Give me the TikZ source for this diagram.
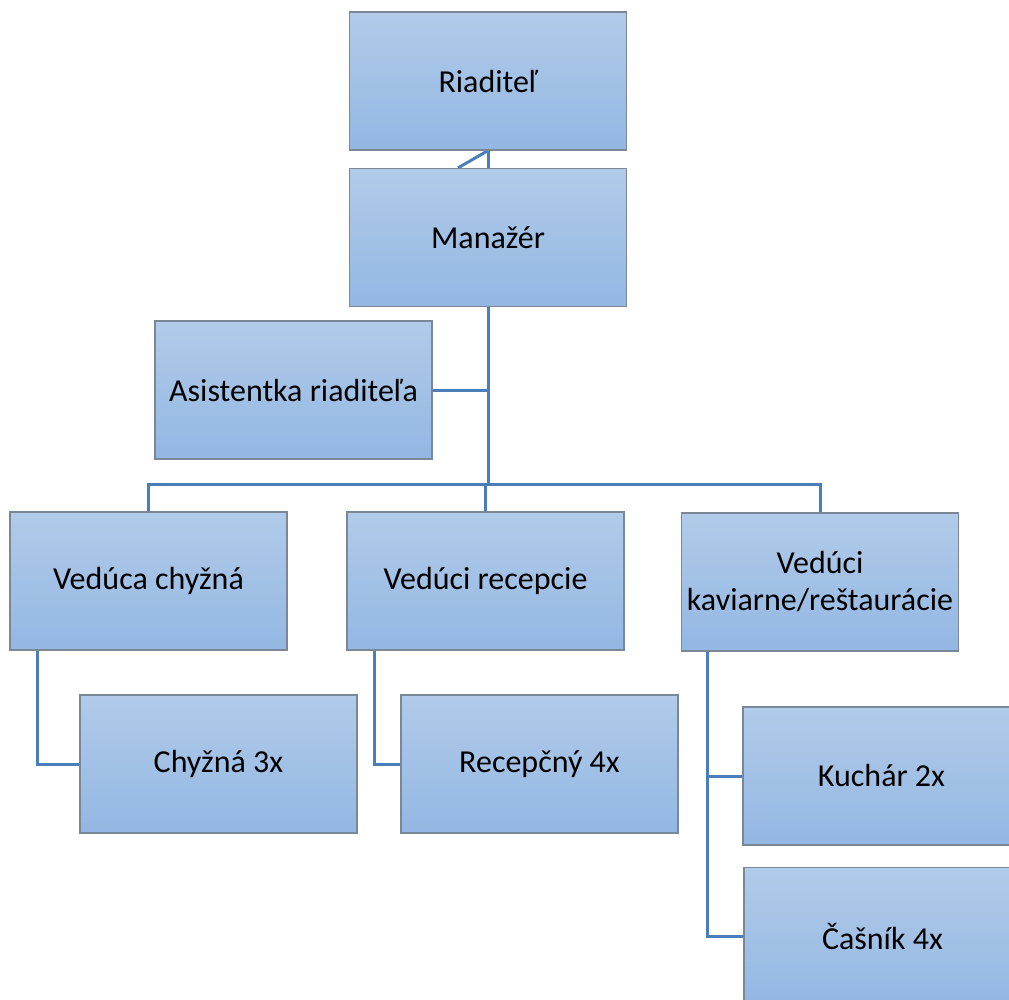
\documentclass[tikz,border=0pt]{standalone}
\usepackage{fontspec}
\setmainfont{Carlito}
\definecolor{boxtop}{HTML}{B1CBE9}
\definecolor{boxbot}{HTML}{93B7E3}
\definecolor{boxline}{HTML}{7A8794}
\definecolor{conn}{HTML}{4A7EBB}
\pgfdeclarelayer{bg}
\pgfsetlayers{bg,main}
\tikzset{
  orgbox/.style={rectangle, draw=boxline, line width=1.2pt, top color=boxtop, bottom color=boxbot,
    minimum width=277pt, minimum height=138pt, inner sep=0pt, align=center,
    font=\fontsize{32}{37}\selectfont, text=black},
  link/.style={draw=conn, line width=3pt}
}
\begin{document}
\begin{tikzpicture}[x=1pt,y=-1pt]
\useasboundingbox (0,0) rectangle (1009,1000);
\clip (0,0) rectangle (1009,1000);
% boxes
\node[orgbox] (riad) at (488,81) {Riaditeľ};
\node[orgbox] (man) at (488,237.5) {Manažér};
\node[orgbox] (asis) at (293.5,390) {Asistentka riaditeľa};
\node[orgbox] (vch) at (148.5,581) {Vedúca chyžná};
\node[orgbox] (vrec) at (485.5,581) {Vedúci recepcie};
\node[orgbox] (vkav) at (820,582) {Vedúci\\kaviarne/reštaurácie};
\node[orgbox] (chyz) at (218.5,764) {Chyžná 3x};
\node[orgbox] (rec) at (539.5,764) {Recepčný 4x};
\node[orgbox] (kuch) at (881.5,776) {Kuchár 2x};
\node[orgbox] (cas) at (882.5,936.5) {Čašník 4x};
\coordinate (bus) at (488,484);
% connectors
\begin{pgfonlayer}{bg}
\fill[white] (0,0) rectangle (1009,1000);
\draw[link] (riad.south) -- (man.north);
\draw[link] (riad.south) -- ([xshift=-30pt]man.north);
\draw[link] (man.south) |- (asis.east);
\draw[link] (man.south) -- (bus);
\draw[link] (vch.north) |- (bus) -| (vkav.north);
\draw[link] (bus) -| (vrec.north);
\draw[link] ([xshift=28pt]vch.south west) |- (chyz.west);
\draw[link] ([xshift=28pt]vrec.south west) |- (rec.west);
\draw[link] ([xshift=27pt]vkav.south west) |- (kuch.west);
\draw[link] ([xshift=27pt]vkav.south west) |- (cas.west);
\end{pgfonlayer}
\end{tikzpicture}
\end{document}
